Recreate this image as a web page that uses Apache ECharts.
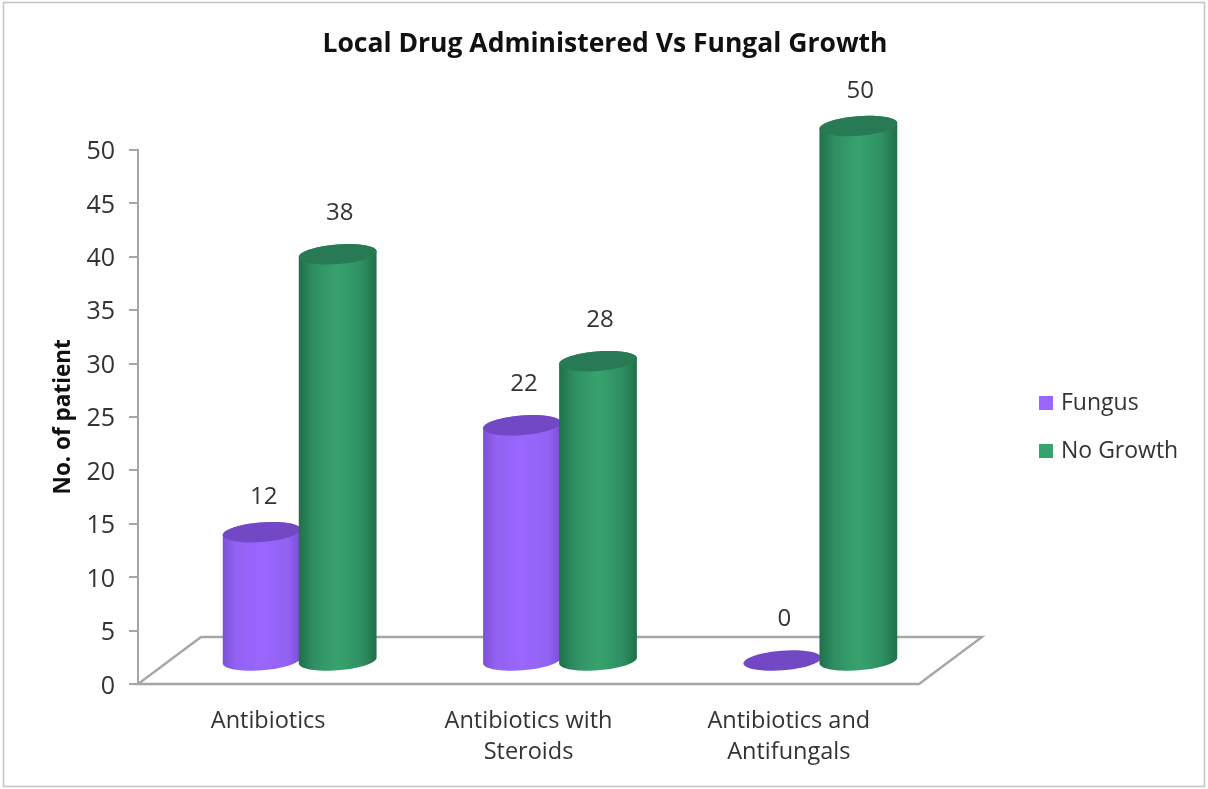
<!DOCTYPE html>
<html>
<head>
<meta charset="utf-8">
<title>Local Drug Administered Vs Fungal Growth</title>
<style>
  html, body { margin: 0; padding: 0; background: #fff; }
  #chart { width: 1208px; height: 789px; }
</style>
<script src="https://cdn.jsdelivr.net/npm/echarts@6/dist/echarts.min.js"></script>
</head>
<body>
<div id="chart"></div>
<script>
// Patient counts per local drug regimen
const categories = ['Antibiotics', 'Antibiotics with\nSteroids', 'Antibiotics and\nAntifungals'];
const fungus = [12, 22, 0];
const noGrowth = [38, 28, 50];
const yTicks = { min: 0, max: 50, interval: 5 };

const FONT = '"Open Sans", "Noto Sans", sans-serif';
const TEXT = '#333333';
const AXIS = '#a6a6a6';

// Oblique projection of the chart's floor
const DEPTH_X = 63, DEPTH_Y = -47;
const BAR_STEP = 38, BAR_HALF = 39, CAP_MINOR = 9.8, TILT = -4.5 * Math.PI / 180;

// Point on a tilted ellipse
function rim(cx, cy, t) {
  const ax = BAR_HALF * Math.cos(t), by = CAP_MINOR * Math.sin(t);
  return [cx + ax * Math.cos(TILT) - by * Math.sin(TILT),
          cy + ax * Math.sin(TILT) + by * Math.cos(TILT)];
}
function arc(cx, cy, from, to) {
  const pts = [];
  for (let i = 0; i <= 48; i++) pts.push(rim(cx, cy, from + (to - from) * i / 48));
  return pts;
}

// Builds a cylinder renderer for one series
function cylinder(side, bodyStops, capColor, labelLift) {
  return function (params, api) {
    const idx = api.value(0), val = api.value(1);
    const top = api.coord([idx, val]);
    const base = api.coord([idx, 0]);
    const cx = top[0] + side * BAR_STEP + DEPTH_X / 2;
    const cyTop = top[1] + DEPTH_Y / 2;
    const cyBase = base[1] + DEPTH_Y / 2;
    const flat = Math.atan(-(CAP_MINOR / BAR_HALF) * Math.tan(TILT));
    // Right edge to left edge along the near side of each rim
    const nearBase = arc(cx, cyBase, flat, flat + Math.PI);
    const nearTop = arc(cx, cyTop, flat + Math.PI, flat + 2 * Math.PI);
    const children = [];
    if (val > 0) {
      children.push({
        type: 'polygon',
        shape: { points: nearBase.concat(nearTop) },
        style: {
          fill: new echarts.graphic.LinearGradient(0, 0, 1, 0, bodyStops)
        }
      });
    }
    children.push({
      type: 'polygon',
      shape: { points: arc(cx, cyTop, 0, 2 * Math.PI) },
      style: { fill: capColor }
    });
    children.push({
      type: 'text',
      style: {
        text: String(val),
        x: cx + 2,
        y: cyTop - labelLift(val),
        align: 'center',
        verticalAlign: 'middle',
        fill: TEXT,
        font: '24px ' + FONT
      }
    });
    return { type: 'group', children: children };
  };
}

function floor(params) {
  const g = params.coordSys;
  const bottom = g.y + g.height, right = g.x + g.width;
  return {
    type: 'polygon',
    shape: { points: [
      [g.x, bottom], [right, bottom],
      [right + DEPTH_X, bottom + DEPTH_Y], [g.x + DEPTH_X, bottom + DEPTH_Y]
    ] },
    style: { fill: 'none', stroke: AXIS, lineWidth: 2.4 }
  };
}

const purpleStops = [
  { offset: 0, color: '#7c50d8' }, { offset: 0.16, color: '#9262f2' },
  { offset: 0.5, color: '#9966ff' }, { offset: 0.84, color: '#9262f2' },
  { offset: 1, color: '#7a4ed4' }
];
const greenStops = [
  { offset: 0, color: '#1f7049' }, { offset: 0.2, color: '#2f9063' },
  { offset: 0.5, color: '#38a26e' }, { offset: 0.8, color: '#2f9063' },
  { offset: 1, color: '#1f7049' }
];

const chart = echarts.init(document.getElementById('chart'), null, { renderer: 'canvas' });
chart.setOption({
  animation: false,
  backgroundColor: '#ffffff',
  graphic: [{
    type: 'rect',
    shape: { x: 3.5, y: 2.5, width: 1201, height: 784 },
    style: { fill: 'none', stroke: '#c4c4c4', lineWidth: 1.5 },
    silent: true
  }],
  title: {
    text: 'Local Drug Administered Vs Fungal Growth',
    left: 600, top: 26, textAlign: 'center',
    textStyle: { fontFamily: FONT, fontSize: 26.5, fontWeight: 'bold', color: '#111111' }
  },
  legend: {
    data: [
      { name: 'Fungus', itemStyle: { color: '#9966ff' } },
      { name: 'No Growth', itemStyle: { color: '#38a26e' } }
    ],
    orient: 'vertical',
    left: 1034, top: 384,
    itemWidth: 14, itemHeight: 14, itemGap: 20,
    icon: 'rect',
    textStyle: { fontFamily: FONT, fontSize: 23, color: TEXT, lineHeight: 28, padding: [0, 0, 0, 3] }
  },
  grid: { left: 138, right: 289, top: 149.5, bottom: 105 },
  xAxis: {
    type: 'category',
    data: categories,
    axisTick: { show: false },
    axisLine: { show: false },
    axisLabel: {
      fontFamily: FONT, fontSize: 23.5, color: TEXT, lineHeight: 31, margin: 22, interval: 0
    }
  },
  yAxis: {
    type: 'value',
    min: yTicks.min, max: yTicks.max, interval: yTicks.interval,
    name: 'No. of patient',
    nameLocation: 'middle',
    nameGap: 59,
    nameTextStyle: { fontFamily: FONT, fontSize: 22.5, fontWeight: 'bold', color: '#111111' },
    splitLine: { show: false },
    axisLine: { show: true, lineStyle: { color: AXIS, width: 2 } },
    axisTick: { show: true, length: 9, lineStyle: { color: AXIS, width: 2 } },
    axisLabel: {
      margin: 23,
      formatter: '{tick|{value}}',
      rich: { tick: { fontFamily: FONT, fontSize: 25, color: TEXT, padding: [5, 0, 0, 0] } }
    }
  },
  series: [
    {
      name: 'Floor', type: 'custom', silent: true, z: 1, clip: false,
      data: [[0, 0]], renderItem: floor
    },
    {
      name: 'Fungus', type: 'custom', z: 2, clip: false, silent: true,
      itemStyle: { color: '#9966ff' },
      encode: { x: 0, y: 1 },
      data: fungus.map((v, i) => [i, v]),
      renderItem: cylinder(-1, purpleStops, '#7248c4', v => v === 12 ? 35 : 41)
    },
    {
      name: 'No Growth', type: 'custom', z: 3, clip: false, silent: true,
      itemStyle: { color: '#38a26e' },
      encode: { x: 0, y: 1 },
      data: noGrowth.map((v, i) => [i, v]),
      renderItem: cylinder(1, greenStops, '#277a54', v => v === 50 ? 35 : 41)
    }
  ]
});
</script>
</body>
</html>
